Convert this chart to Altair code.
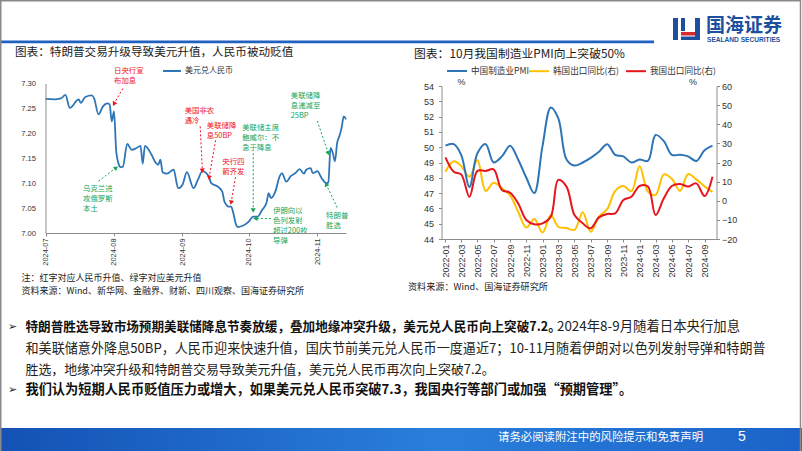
import altair as alt
import pandas as pd

# ---------------- data ----------------
usd_dates = [
    "2024/07/01", "2024/07/05", "2024/07/08", "2024/07/10", "2024/07/12", "2024/07/16", "2024/07/17",
    "2024/07/19", "2024/07/22", "2024/07/23", "2024/07/25", "2024/07/27", "2024/07/29", "2024/07/30",
    "2024/07/31", "2024/08/01", "2024/08/02", "2024/08/03", "2024/08/04", "2024/08/05", "2024/08/07",
    "2024/08/09", "2024/08/11", "2024/08/13", "2024/08/14", "2024/08/15", "2024/08/18", "2024/08/20",
    "2024/08/21", "2024/08/22", "2024/08/23", "2024/08/25", "2024/08/28", "2024/08/30", "2024/09/01",
    "2024/09/03", "2024/09/06", "2024/09/08", "2024/09/10", "2024/09/12", "2024/09/13", "2024/09/14",
    "2024/09/17", "2024/09/19", "2024/09/20", "2024/09/22", "2024/09/23", "2024/09/24", "2024/09/25",
    "2024/09/26", "2024/09/28", "2024/10/01", "2024/10/03", "2024/10/05", "2024/10/07", "2024/10/09",
    "2024/10/10", "2024/10/11", "2024/10/13", "2024/10/15", "2024/10/16", "2024/10/18", "2024/10/20",
    "2024/10/22", "2024/10/24", "2024/10/26", "2024/10/27", "2024/10/29", "2024/10/30", "2024/11/01",
    "2024/11/03", "2024/11/05", "2024/11/06", "2024/11/07", "2024/11/08", "2024/11/09", "2024/11/10",
    "2024/11/11", "2024/11/12", "2024/11/13", "2024/11/14",
]
usd_rate = [
    7.269, 7.268, 7.270, 7.277, 7.251, 7.268, 7.261, 7.273, 7.276, 7.270, 7.238, 7.254, 7.260, 7.258,
    7.224, 7.244, 7.164, 7.140, 7.132, 7.133, 7.179, 7.167, 7.170, 7.175, 7.139, 7.175, 7.157, 7.140,
    7.137, 7.147, 7.122, 7.119, 7.127, 7.090, 7.097, 7.122, 7.090, 7.107, 7.124, 7.119, 7.112, 7.100,
    7.093, 7.083, 7.063, 7.053, 7.053, 7.040, 7.020, 7.012, 7.014, 7.023, 7.033, 7.033, 7.046, 7.060,
    7.080, 7.070, 7.083, 7.114, 7.120, 7.103, 7.114, 7.120, 7.128, 7.119, 7.127, 7.130, 7.120, 7.124,
    7.110, 7.100, 7.101, 7.171, 7.161, 7.144, 7.181, 7.194, 7.211, 7.234, 7.228,
]

pmi_months = [
    "2022/01/01", "2022/02/01", "2022/03/01", "2022/04/01", "2022/05/01", "2022/06/01", "2022/07/01",
    "2022/08/01", "2022/09/01", "2022/10/01", "2022/11/01", "2022/12/01", "2023/01/01", "2023/02/01",
    "2023/03/01", "2023/04/01", "2023/05/01", "2023/06/01", "2023/07/01", "2023/08/01", "2023/09/01",
    "2023/10/01", "2023/11/01", "2023/12/01", "2024/01/01", "2024/02/01", "2024/03/01", "2024/04/01",
    "2024/05/01", "2024/06/01", "2024/07/01", "2024/08/01", "2024/09/01", "2024/10/01",
]
cn_pmi = [50.1, 50.2, 49.5, 47.4, 49.6, 50.2, 49.0, 49.4, 50.1, 49.2, 48.0, 47.0,
          50.1, 52.6, 51.9, 49.2, 48.8, 49.0, 49.3, 49.7, 50.2, 49.5, 49.4, 49.0,
          49.2, 49.1, 50.8, 50.4, 49.5, 49.5, 49.4, 49.1, 49.8, 50.1]
kr_export = [15.2, 20.6, 18.2, 12.6, 21.3, 5.2, 9.4, 6.6, 2.8, -5.7, -14.0, -9.6,
             -16.6, -7.5, -13.6, -14.3, -15.2, -6.0, -16.2, -8.3, -4.4, 5.1, 7.7, 5.0,
             18.0, 4.8, 3.1, 13.8, 11.5, 5.1, 13.9, 11.2, 7.5, 4.6]
cn_export = [22.7, 15.2, 13.8, 2.1, 15.6, 15.6, 16.4, 5.6, 4.2, -1.3, -10.1, -12.3,
             -11.8, -8.3, 10.9, 7.4, -7.5, -11.8, -14.4, -8.7, -6.9, -6.6, 0.4, 2.1,
             7.7, 7.4, -7.5, 1.3, 7.7, 8.8, 7.4, 9.1, 2.5, 12.6]

left_x_ticks = ["2024/07/01", "2024/08/01", "2024/09/01", "2024/10/01", "2024/11/01"]
right_x_ticks = ["2022/01/01", "2022/03/01", "2022/05/01", "2022/07/01", "2022/09/01", "2022/11/01",
                 "2023/01/01", "2023/03/01", "2023/05/01", "2023/07/01", "2023/09/01", "2023/11/01",
                 "2024/01/01", "2024/03/01", "2024/05/01", "2024/07/01", "2024/09/01"]
left_y_ticks = [7.00, 7.05, 7.10, 7.15, 7.20, 7.25, 7.30]
pmi_ticks = [44, 45, 46, 47, 48, 49, 50, 51, 52, 53, 54]
export_ticks = [-20, -10, 0, 10, 20, 30, 40, 50, 60]

# annotations: event marker (md, mv), dashed-line end (ed, ev), label anchor (td, tv)
annotations = [
    {"label": "日央行宣\n布加息", "kind": "red", "md": "2024/08/01", "mv": 7.259,
     "ed": "2024/08/05", "ev": 7.290, "td": "2024/08/01", "tv": 7.333, "ang": 208},
    {"label": "美国非农\n遇冷", "kind": "red", "md": "2024/09/10", "mv": 7.125,
     "ed": "2024/09/09", "ev": 7.214, "td": "2024/09/02", "tv": 7.253, "ang": 177},
    {"label": "美联储降\n息50BP", "kind": "red", "md": "2024/09/13", "mv": 7.111,
     "ed": "2024/09/16", "ev": 7.186, "td": "2024/09/12", "tv": 7.222, "ang": 191},
    {"label": "央行四\n箭齐发", "kind": "red", "md": "2024/09/23", "mv": 7.061,
     "ed": "2024/09/25", "ev": 7.112, "td": "2024/09/19", "tv": 7.150, "ang": 192},
    {"label": "乌克兰进\n攻俄罗斯\n本土", "kind": "green", "md": "2024/08/02", "mv": 7.131,
     "ed": "2024/07/25", "ev": 7.104, "td": "2024/07/18", "tv": 7.096, "ang": 53},
    {"label": "美联储主席\n鲍威尔：不\n急于降息", "kind": "green", "md": "2024/10/03", "mv": 7.045,
     "ed": "2024/10/03", "ev": 7.160, "td": "2024/09/28", "tv": 7.218, "ang": 180},
    {"label": "伊朗向以\n色列发射\n超过200枚\n导弹", "kind": "green", "md": "2024/10/04", "mv": 7.029,
     "ed": "2024/10/11", "ev": 7.029, "td": "2024/10/12", "tv": 7.053, "ang": 270},
    {"label": "美联储降\n息递减至\n25BP", "kind": "green", "md": "2024/11/06", "mv": 7.160,
     "ed": "2024/11/01", "ev": 7.225, "td": "2024/10/20", "tv": 7.283, "ang": 160},
    {"label": "特朗普\n胜选", "kind": "green", "md": "2024/11/05", "mv": 7.098,
     "ed": "2024/11/10", "ev": 7.051, "td": "2024/11/05", "tv": 7.043, "ang": 336},
]

# ---------------- styles ----------------
FONT_CN = "Noto Sans CJK SC"
FONT_NUM = "Liberation Sans"
BLUE = "#2E75B6"
YELLOW = "#FFC000"
RED = "#E5161C"
A_RED = "#F0141E"
A_GREEN = "#14A55A"
AX = "#8C8C8C"


def dt(s):
    y, m, d = s.split("/")
    return alt.DateTime(year=int(y), month=int(m), date=int(d))


# ---------------- left chart ----------------
xl = alt.Scale(domain=[dt("2024/07/01"), dt("2024/11/14")], range=[45.5, 346])
yl = alt.Scale(domain=[7.0, 7.3], range=[233, 83.5], nice=False, zero=False)
xl_axis = alt.Axis(
    orient="bottom", offset=-218, values=[dt(s) for s in left_x_ticks], format="%Y-%m",
    labelAngle=270, labelFont=FONT_NUM, labelFontSize=7.4, labelColor="#333",
    domainColor=AX, tickColor=AX, tickSize=3, labelPadding=2, grid=False, title=None,
    labelFlush=False, labelOverlap=False, zindex=1)
yl_axis = alt.Axis(
    orient="left", offset=-45.5, values=left_y_ticks, format=".2f",
    labelFont=FONT_NUM, labelFontSize=7.6, labelColor="#333", domainColor=AX,
    ticks=False, labelPadding=10, grid=False, title=None, labelFlush=False, zindex=1)

usd_df = pd.DataFrame({"date": usd_dates, "rate": usd_rate, "series": "美元兑人民币"})

left_line = alt.Chart(usd_df).mark_line(strokeWidth=1.8, interpolate="monotone").encode(
    x=alt.X("date:T", scale=xl, axis=xl_axis),
    y=alt.Y("rate:Q", scale=yl, axis=yl_axis),
    color=alt.Color("series:N", scale=alt.Scale(domain=["美元兑人民币"], range=[BLUE]),
                    legend=alt.Legend(orient="none", legendX=162, legendY=61, direction="horizontal",
                                      title=None, symbolType="stroke", symbolSize=320,
                                      symbolStrokeWidth=2, labelFont=FONT_CN, labelFontSize=8,
                                      labelColor="#333", labelOffset=3, padding=0)),
)

ann_df = pd.DataFrame(annotations)
ann_df["col"] = ann_df["kind"].map({"red": A_RED, "green": A_GREEN})

ann_rules = alt.Chart(ann_df).mark_rule(strokeDash=[2, 2], strokeWidth=1).encode(
    x=alt.X("ed:T", scale=xl, axis=xl_axis), x2=alt.X2("md"),
    y=alt.Y("ev:Q", scale=yl, axis=yl_axis), y2=alt.Y2("mv"),
    stroke=alt.Stroke("col:N", scale=None),
)
ann_marks = alt.Chart(ann_df).mark_point(shape="triangle-up", filled=True, size=26, opacity=1,
                                         strokeWidth=0).encode(
    x=alt.X("md:T", scale=xl, axis=xl_axis), y=alt.Y("mv:Q", scale=yl, axis=yl_axis),
    angle=alt.Angle("ang:Q", scale=None), fill=alt.Fill("col:N", scale=None),
)
ann_text = alt.Chart(ann_df).mark_text(align="left", baseline="top", lineBreak="\n", fontSize=7.4,
                                       font=FONT_CN, lineHeight=10).encode(
    x=alt.X("td:T", scale=xl, axis=xl_axis), y=alt.Y("tv:Q", scale=yl, axis=yl_axis),
    text="label:N", fill=alt.Fill("col:N", scale=None),
)

left_chart = alt.layer(left_line, ann_rules, ann_marks, ann_text)

# ---------------- right chart ----------------
xr = alt.Scale(domain=[dt("2021/12/17"), dt("2024/10/16")], range=[441.5, 716.5])

pmi_df = pd.DataFrame({"month": pmi_months, "value": cn_pmi, "series": "中国制造业PMI"})
exp_df = pd.concat([
    pd.DataFrame({"month": pmi_months, "value": kr_export, "series": "韩国出口同比(右)"}),
    pd.DataFrame({"month": pmi_months, "value": cn_export, "series": "我国出口同比(右)"}),
])

legend_common = dict(orient="none", direction="horizontal", title=None, symbolType="stroke",
                     symbolSize=400, symbolStrokeWidth=2, labelFont=FONT_CN, labelFontSize=8.6,
                     labelColor="#333", labelOffset=3, padding=0)

exp_chart = alt.Chart(exp_df).mark_line(strokeWidth=2, interpolate="catmull-rom").encode(
    x=alt.X("month:T", scale=xr, axis=None),
    y=alt.Y("value:Q", scale=alt.Scale(domain=[-20, 60], range=[239, 86], nice=False, zero=False),
            axis=alt.Axis(orient="right", offset=-85.5, values=export_ticks, labelFont=FONT_NUM,
                          labelFontSize=9, labelColor="#333", domainColor=AX, tickColor=AX,
                          tickSize=3, labelPadding=2, grid=False, title=None, labelFlush=False,
                          zindex=1)),
    color=alt.Color("series:N", scale=alt.Scale(domain=["韩国出口同比(右)", "我国出口同比(右)"],
                                                range=[YELLOW, RED]),
                    legend=alt.Legend(legendX=528, legendY=60, columnPadding=3, **legend_common)),
    detail="series:N",
)

pmi_chart = alt.Chart(pmi_df).mark_line(strokeWidth=2, interpolate="catmull-rom").encode(
    x=alt.X("month:T", scale=xr, axis=alt.Axis(
        orient="bottom", offset=-212, values=[dt(s) for s in right_x_ticks], format="%Y-%m",
        labelAngle=270, labelFont=FONT_NUM, labelFontSize=9, labelColor="#333",
        domainColor=AX, tickColor=AX, tickSize=3, labelPadding=2, grid=False, title=None,
        labelFlush=False, labelOverlap=False, zindex=1)),
    y=alt.Y("value:Q", scale=alt.Scale(domain=[44, 54], range=[239, 86], nice=False, zero=False),
            axis=alt.Axis(orient="left", offset=-441.5, values=pmi_ticks, labelFont=FONT_NUM,
                          labelFontSize=9, labelColor="#333", domainColor=AX, tickColor=AX,
                          tickSize=3, labelPadding=5, grid=False, title=None, labelFlush=False,
                          zindex=1)),
    color=alt.Color("series:N", scale=alt.Scale(domain=["中国制造业PMI"], range=[BLUE]),
                    legend=alt.Legend(legendX=446, legendY=60, **legend_common)),
)

# ---------------- slide decorations ----------------
one = alt.Data(values=[{"k": 1}])


def txt(s, x, y, size, color="#222", font=FONT_CN, weight="normal", align="left", baseline="middle"):
    return alt.Chart(one).mark_text(text=s, fontSize=size, color=color, font=font, fontWeight=weight,
                                    align=align, baseline=baseline).encode(x=alt.value(x), y=alt.value(y))


def box(x1, y1, x2, y2, color, **kw):
    return alt.Chart(one).mark_rect(color=color, **kw).encode(
        x=alt.value(x1), x2=alt.value(x2), y=alt.value(y1), y2=alt.value(y2))


footer_grad = alt.LinearGradient(
    gradient="linear", x1=0, x2=1, y1=0, y2=0,
    stops=[alt.GradientStop(color="#1452B4", offset=0), alt.GradientStop(color="#2A7FDC", offset=0.55),
           alt.GradientStop(color="#1B63C8", offset=1)])

deco_back = [
    box(0, 40.5, 654, 43.2, "#2060C0"),
    # logo icon
    box(673, 18, 678, 40, "#1D4F9E"),
    box(681, 18, 685, 31, "#1D4F9E"),
    box(695, 18, 700, 40, "#1D4F9E"),
    box(681, 32, 695, 35.5, "#D7282F"),
    box(681, 36.5, 695, 40, "#1D4F9E"),
    alt.Chart(one).mark_rect(color=footer_grad).encode(
        x=alt.value(0), x2=alt.value(802), y=alt.value(428), y2=alt.value(451)),
]

deco_front = [
    txt("国海证券", 706, 26, 19, color="#1D4F9E", weight="bold"),
    txt("SEALAND SECURITIES", 707, 39.5, 6.6, color="#1D4F9E", font=FONT_NUM, weight="bold"),
    txt("图表：特朗普交易升级导致美元升值，人民币被动贬值", 15, 53, 11.6, color="#1a1a1a"),
    txt("图表：10月我国制造业PMI向上突破50%", 414, 54, 11.8, color="#1a1a1a"),
    txt("%", 461.5, 81.5, 9, color="#333", font=FONT_NUM, align="center"),
    txt("%", 693, 81.5, 9, color="#333", font=FONT_NUM, align="center"),
    txt("注：红字对应人民币升值、绿字对应美元升值", 21.5, 278, 9.0, color="#222"),
    txt("资料来源：Wind、新华网、金融界、财新、四川观察、国海证券研究所", 21.5, 290.5, 9.0, color="#222"),
    txt("资料来源：Wind、国海证券研究所", 408, 287, 9.1, color="#222"),
    txt("➢", 8, 327, 11, color="#222", font="DejaVu Sans"),
    txt("特朗普胜选导致市场预期美联储降息节奏放缓，叠加地缘冲突升级，美元兑人民币向上突破7.2。",
        25.5, 327, 12.6, color="#111", weight="bold"),
    txt("2024年8-9月随着日本央行加息", 557, 327, 13.4, color="#222"),
    txt("和美联储意外降息50BP，人民币迎来快速升值，国庆节前美元兑人民币一度逼近7；10-11月随着伊朗对以色列发射导弹和特朗普",
        25.5, 348.5, 13.1, color="#222"),
    txt("胜选，地缘冲突升级和特朗普交易导致美元升值，美元兑人民币再次向上突破7.2。", 25.5, 369.5, 12.9, color="#222"),
    txt("➢", 8, 389.5, 11, color="#222", font="DejaVu Sans"),
    txt("我们认为短期人民币贬值压力或增大，如果美元兑人民币突破7.3，我国央行等部门或加强“预期管理”。",
        25.5, 389.5, 13.2, color="#111", weight="bold"),
    txt("请务必阅读附注中的风险提示和免责声明", 498, 438, 11.4, color="white"),
    txt("5", 742, 437, 14, color="white", font=FONT_NUM, align="center"),
    alt.Chart(one).mark_rect(fillOpacity=0, stroke="#8a8a8a", strokeWidth=1.5).encode(
        x=alt.value(0.75), x2=alt.value(800.5), y=alt.value(0.75), y2=alt.value(452)),
]

chart = alt.layer(
    *deco_back, left_chart, exp_chart, pmi_chart, *deco_front
).resolve_scale(
    x="independent", y="independent", color="independent"
).properties(
    width=802, height=451, autosize=alt.AutoSizeParams(type="none"), padding=0, background="white"
).configure_view(stroke=None)

chart.save("out.html", embed_options={"renderer": "svg", "actions": False})
